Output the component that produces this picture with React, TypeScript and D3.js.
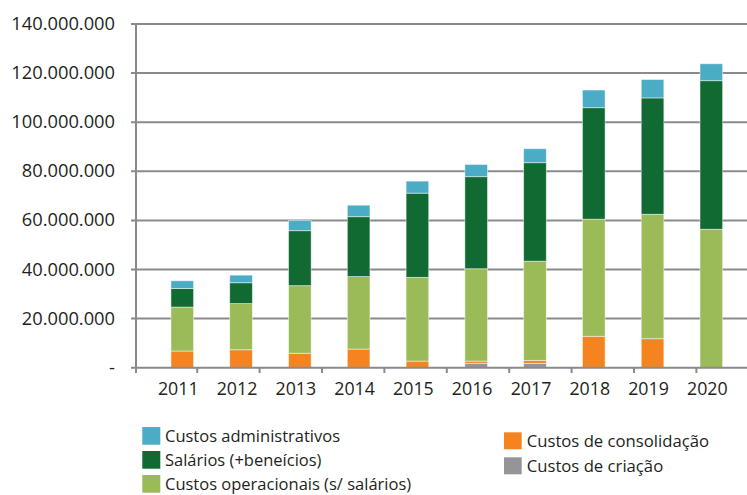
import React from "react";
import * as d3 from "d3";

const years = ["2011", "2012", "2013", "2014", "2015", "2016", "2017", "2018", "2019", "2020"];
// values in millions
const criacao = [0, 0, 0, 0, 0, 1.8, 1.8, 0, 0, 0];
const consolidacao = [6.8, 7.3, 5.9, 7.6, 2.7, 0.9, 1.2, 12.8, 11.8, 0];
const operacionais = [17.9, 18.8, 27.5, 29.5, 34.1, 37.6, 40.4, 47.7, 50.7, 56.4];
const salarios = [7.6, 8.5, 22.4, 24.4, 34.3, 37.5, 40.1, 45.4, 47.4, 60.5];
const administrativos = [3.1, 3.1, 4.1, 4.7, 4.9, 5.0, 5.7, 7.2, 7.5, 6.9];
const yTicks = [0, 20, 40, 60, 80, 100, 120, 140];

const seriesKeys = ["criacao", "consolidacao", "operacionais", "salarios", "administrativos"];
const colors: Record<string, string> = {
  criacao: "#939598",
  consolidacao: "#F58420",
  operacionais: "#9BBB59",
  salarios: "#116A31",
  administrativos: "#4BACC6",
};
const legendLeft = [
  { key: "administrativos", label: "Custos administrativos" },
  { key: "salarios", label: "Salários (+beneícios)" },
  { key: "operacionais", label: "Custos operacionais (s/ salários)" },
];
const legendRight = [
  { key: "consolidacao", label: "Custos de consolidação" },
  { key: "criacao", label: "Custos de criação" },
];

const FONT = "'Open Sans', sans-serif";
const TXT = "#231F20";

export default function App() {
  const table = years.map((y, i) => ({
    year: y,
    criacao: criacao[i],
    consolidacao: consolidacao[i],
    operacionais: operacionais[i],
    salarios: salarios[i],
    administrativos: administrativos[i],
  }));
  const stacked = d3.stack<any>().keys(seriesKeys)(table);

  const x0 = 134.8;
  const step = 62.4;
  const x = d3.scaleBand<string>().domain(years).range([x0, x0 + step * years.length]).padding(0.615);
  const y = d3.scaleLinear().domain([0, 140]).range([367.7, 24]);
  const locale = d3.formatLocale({ decimal: ",", thousands: ".", grouping: [3], currency: ["R$", ""] });
  const fmt = (v: number) => (v === 0 ? "-" : locale.format(",")(v * 1e6));

  const axisX = 136;
  const gridColor = "#8A8A8E";

  return (
    <svg width={747} height={495} style={{ position: "absolute", left: 0, top: 0, background: "#fff" }}>
      {/* gridlines */}
      {yTicks.map((t) => (
        <g key={t}>
          {t > 0 && <line x1={axisX - 5} x2={747} y1={y(t)} y2={y(t)} stroke={gridColor} strokeWidth={2} />}
          <text x={115} y={y(t) + 6} textAnchor="end" fontFamily={FONT} fontSize={18.3} fill={TXT}>
            {fmt(t)}
          </text>
        </g>
      ))}
      {/* bars */}
      {stacked.map((s) => (
        <g key={s.key} fill={colors[s.key]}>
          {s.map((d, i) =>
            d[1] - d[0] > 0 ? (
              <rect
                key={i}
                x={x(years[i])!}
                width={x.bandwidth()}
                y={y(d[1])}
                height={y(d[0]) - y(d[1])}
                stroke="#ffffff"
                strokeOpacity={0.6}
                strokeWidth={0.8}
              />
            ) : null
          )}
        </g>
      ))}
      {/* axes */}
      <line x1={axisX} x2={axisX} y1={y(140) - 1} y2={373} stroke={gridColor} strokeWidth={2} />
      <line x1={axisX - 5} x2={747} y1={y(0)} y2={y(0)} stroke={gridColor} strokeWidth={2} />
      {d3.range(1, years.length + 1).map((i) => (
        <line key={i} x1={x0 + i * step} x2={x0 + i * step} y1={y(0)} y2={373} stroke={gridColor} strokeWidth={2} />
      ))}
      {years.map((yr) => (
        <text key={yr} x={x(yr)! + x.bandwidth() / 2 - 4} y={394.7} textAnchor="middle" fontFamily={FONT} fontSize={17.8} fill={TXT}>
          {yr}
        </text>
      ))}
      {/* legend */}
      {legendLeft.map((l, i) => (
        <g key={l.key} transform={`translate(142.3,${427 + i * 24})`}>
          <rect width={18} height={17.7} fill={colors[l.key]} />
          <text x={22.7} y={15} fontFamily={FONT} fontSize={16.5} fill={TXT}>
            {l.label}
          </text>
        </g>
      ))}
      {legendRight.map((l, i) => (
        <g key={l.key} transform={`translate(504,${432.3 + i * 25})`}>
          <rect width={17.7} height={17} fill={colors[l.key]} />
          <text x={22.7} y={14.7} fontFamily={FONT} fontSize={16.7} fill={TXT}>
            {l.label}
          </text>
        </g>
      ))}
    </svg>
  );
}
